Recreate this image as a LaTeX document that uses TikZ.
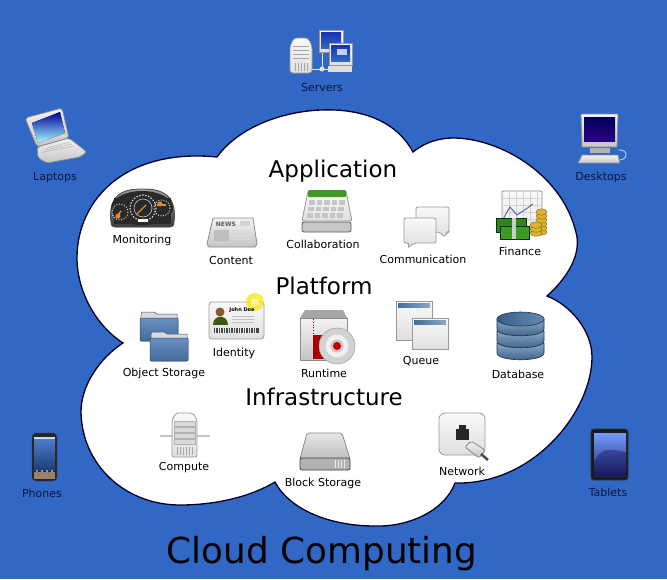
\documentclass[tikz,border=0pt]{standalone}
\usepackage{fontspec}
\setmainfont{DejaVu Sans}
\usepackage{tikz}
\usetikzlibrary{arrows.meta,positioning,calc}
\definecolor{cbg}{HTML}{3167C5}
\definecolor{cln}{HTML}{0C1640}
\definecolor{cgy}{HTML}{8A8A8A}
\definecolor{cdk}{HTML}{3A3A3A}
\definecolor{cor}{HTML}{E08A2A}
\definecolor{cfo}{HTML}{4F7DB5}
\definecolor{cdb}{HTML}{3F6E9E}
\definecolor{cmo}{HTML}{3C9A22}
\definecolor{cau}{HTML}{D9B528}

\begin{document}
\begin{tikzpicture}[x=1pt,y=-1pt,
    lbl/.style={font=\fontsize{11}{12}\selectfont,text=black,inner sep=0pt},
    lblout/.style={lbl,text=cln},
    head/.style={font=\fontsize{23}{26}\selectfont,text=black,inner sep=0pt},
    metal/.style={draw=cgy,line width=0.8pt,top color=gray!10,bottom color=gray!45},
    pale/.style={draw=gray!80,line width=0.8pt,top color=gray!5,bottom color=gray!25},
    rule/.style={line width=0.7pt,gray!70},
  ]
  \useasboundingbox (0,0) rectangle (667,579);
  \fill[cbg] (0,0) rectangle (667,579);
  % cloud
  \draw[fill=white,draw=black!85!blue,line width=1.3pt] (217,157)
    .. controls (240,125) and (290,108) .. (335,110)
    .. controls (375,112) and (400,128) .. (413,152)
    .. controls (425,142) and (440,138) .. (453,138)
    .. controls (500,138) and (565,175) .. (577,237)
    .. controls (580,258) and (565,280) .. (547,296)
    .. controls (570,305) and (592,330) .. (592,357)
    .. controls (592,410) and (535,485) .. (455,483)
    .. controls (445,510) and (410,527) .. (375,526)
    .. controls (330,526) and (290,510) .. (275,482)
    .. controls (250,497) and (215,505) .. (180,505)
    .. controls (125,505) and (82,465) .. (81,412)
    .. controls (81,385) and (100,358) .. (123,343)
    .. controls (95,325) and (77,290) .. (77,258)
    .. controls (77,200) and (125,148) .. (217,157) -- cycle;
  % titles
  \node[head] (application) at (333,171.5) {Application};
  \node[head] (platform) at (324,286) {Platform};
  \node[head] (infrastructure) at (324,397) {Infrastructure};
  \node[font=\fontsize{35.8}{40}\selectfont,text=black,inner sep=0pt] (title) at (322,554) {Cloud Computing};
  % labels
  \node[lblout] (servers) at (322,87) {Servers};
  \node[lblout] (laptops) at (55,178) {Laptops};
  \node[lblout] (desktops) at (601,177) {Desktops};
  \node[lblout] (phones) at (42,493) {Phones};
  \node[lblout] (tablets) at (608,492) {Tablets};
  \node[lbl] (monitoring) at (142,240) {Monitoring};
  \node[lbl] (content) at (231,260) {Content};
  \node[lbl] (collaboration) at (323,244) {Collaboration};
  \node[lbl] (communication) at (423,259) {Communication};
  \node[lbl] (finance) at (520,251) {Finance};
  \node[lbl] (objstore) at (164,373) {Object Storage};
  \node[lbl] (identity) at (234,353) {Identity};
  \node[lbl] (runtime) at (324,373) {Runtime};
  \node[lbl] (queue) at (421,361) {Queue};
  \node[lbl] (database) at (518,374) {Database};
  \node[lbl] (compute) at (184,468) {Compute};
  \node[lbl] (blockstore) at (323,483) {Block Storage};
  \node[lbl] (network) at (462,471) {Network};
  % servers
  \draw[line width=1pt,white!85!cbg] (311,69) -- (329,69) (322,52) -- (322,69);
  \fill[white!85!cbg] (322,69) circle (2.5);
  \draw[pale,rounded corners=3pt] (290,46) -- (294,38) -- (308,38) -- (312,46) -- (312,73) -- (290,73) -- cycle;
  \foreach \y in {46,50,54,58} \draw[rule] (293,\y) -- (309,\y);
  \foreach \x in {295,298,...,308} \draw[rule,line width=0.5pt] (\x,63) -- (\x,71);
  \draw[pale] (319,30) rectangle (343,52);
  \fill[top color=blue!40!cbg!80!black,bottom color=cbg] (321,32) rectangle (341,48);
  \draw[pale] (329,43) rectangle (352,65);
  \fill[top color=blue!40!cbg!80!black,bottom color=cbg] (331,45) rectangle (350,61);
  \fill[white!70!cbg] (337,49) rectangle (347,55);
  \fill[gray!25] (328,66) rectangle (352,72);
  % laptop
  \draw[metal,rounded corners=3pt] (25,118) -- (62,108) -- (69,138) -- (37,147) -- cycle;
  \fill[top color=blue!60!black,bottom color=cyan!35!white] (32,123) -- (60,112) -- (65,133) -- (38,143) -- cycle;
  \draw[metal,rounded corners=3pt] (37,147) -- (69,138) -- (87,152) -- (80,157) -- (47,163) -- (38,158) -- cycle;
  \foreach \k in {0,1,2} \draw[rule,gray!50] (43+\k*2,152-\k*2) -- (74-\k*2,146-\k*2);
  % desktop
  \draw[metal] (581,114) -- (618,114) -- (617,147) -- (582,147) -- cycle;
  \fill[top color=blue!35!black,bottom color=violet!50!blue!70!black] (584,117) rectangle (615,141);
  \fill[gray!60] (590,148) rectangle (610,153);
  \draw[metal] (582,155) -- (618,155) -- (620,163) -- (578,163) -- cycle;
  \draw[line width=0.8pt,white!75!cbg] (618,150) .. controls (627,149) and (630,158) .. (620,160);
  % phone
  \draw[fill=black!85,draw=gray!50!black,rounded corners=4pt] (32,433) rectangle (57,481);
  \fill[top color=cbg!85!white,bottom color=cbg!60!black] (34,438) rectangle (55,470);
  \fill[white!75!cbg] (34,437) rectangle (55,439);
  \fill[gray!60!brown] (34,472) rectangle (55,479);
  \foreach \x in {37,42,47,52} \fill[white] (\x,471) circle (0.8);
  % tablet
  \draw[fill=black!90,draw=gray!40!black,line width=0.8pt,rounded corners=3pt] (591,429) rectangle (628,480);
  \fill[top color=cyan!30!blue!55!white,bottom color=blue!30!black!85] (594,433) rectangle (626,476);
  \fill[blue!30!black,opacity=0.35] (594,476) -- (594,462) .. controls (602,445) and (612,450) .. (626,452) -- (626,476) -- cycle;
  % monitoring
  \fill[top color=gray!80,bottom color=cdk,draw=gray!60!black,line width=0.8pt] (111,222)
    .. controls (107,190) and (130,189) .. (142,189) .. controls (155,189) and (178,190) .. (174,222)
    .. controls (174,226) and (172,227) .. (170,227) -- (115,227) .. controls (113,227) and (111,226) .. (111,222) -- cycle;
  \fill[cdk!70!black] (114,198) rectangle (171,224);
  \fill[cdk!70!black] (142,208) ellipse (31 and 17);
  \draw[white!80!cdk,line width=1.1pt,dash pattern=on 1.5pt off 1.5pt] (143,208) circle (13);
  \draw[white!70!cdk,line width=0.6pt] (143,208) circle (9);
  \draw[cor,line width=1.2pt] (136,215) -- (146,205);
  \draw[white!80!cdk,line width=1pt,dash pattern=on 1pt off 1.6pt] (120,212) circle (8);
  \draw[cor,line width=1.5pt] (116,218) -- (121,211);
  \fill[cor] (118,216) circle (2.5);
  \draw[white!80!cdk,line width=1pt,dash pattern=on 1pt off 1.6pt] (162,208) circle (8);
  \draw[cor,line width=1.5pt] (157,205) -- (166,205);
  \fill[cor] (160,204) circle (2.5);
  \fill[white] (138,219) rectangle (148,222);
  % content
  \draw[metal] (213,218) -- (253,218) -- (257,244) -- (255,247) -- (209,247) -- (207,244) -- cycle;
  \node[font=\fontsize{6}{6}\selectfont\rmfamily\bfseries,text=gray!70!black,inner sep=0pt] (newsmark) at (226,224) {NEWS};
  \fill[gray!50] (214,230) rectangle (229,241);
  \foreach \y in {230,233,236,239} \draw[rule,gray!30] (232,\y) -- (250,\y);
  \fill[gray!35] (240,221) rectangle (250,226);
  % collaboration
  \draw[draw=gray!70!black,fill=gray!45,rounded corners=2pt,line width=0.8pt] (302,222) -- (351,222) -- (351,232) -- (302,232) -- cycle;
  \draw[pale,rounded corners=2pt] (308,191) -- (346,191) -- (352,221) -- (302,221) -- cycle;
  \fill[cmo,rounded corners=1pt] (308,190) rectangle (346,197);
  \foreach \i in {0,...,4} \foreach \j in {0,1,2}
    \fill[gray!45] (309+\i*7.5-\j*1,200+\j*6.5) rectangle ++(5.5,4.5);
  % communication
  \draw[pale,rounded corners=2pt] (416,207) -- (449,207) -- (449,232) -- (447,232) -- (445,237) -- (439,232) -- (416,232) -- cycle;
  \draw[pale,rounded corners=2pt] (404,218) -- (436,218) -- (436,243) -- (414,243) -- (408,248) -- (409,243) -- (404,243) -- cycle;
  % finance
  \draw[metal,top color=gray!5,bottom color=gray!15,rounded corners=1pt] (502,191) rectangle (542,232);
  \foreach \x in {509,516,...,537} \draw[gray!35,line width=0.4pt] (\x,192) -- (\x,230);
  \foreach \y in {198,205,...,226} \draw[gray!35,line width=0.4pt] (503,\y) -- (541,\y);
  \draw[blue!30!gray,line width=0.9pt] (503,219) -- (510,207) -- (517,215) -- (526,209) -- (533,204);
  \draw[fill=cmo!85!black,draw=green!20!black,line width=0.4pt] (496,218) rectangle (526,232);
  \draw[fill=cmo,draw=green!20!black,line width=0.4pt] (500,226) rectangle (529,239);
  \fill[gray!40] (512,218) rectangle (516,239);
  \foreach \y in {232,228,...,212} \draw[fill=cau,draw=brown!70!black,line width=0.4pt] (541.5,\y) ellipse (5.5 and 3.2);
  \foreach \y in {233,229,225} \draw[fill=cau,draw=brown!70!black,line width=0.4pt] (536,\y) ellipse (6 and 3.2);
  % object storage
  \foreach \xx/\yy in {140/312,150/332} {
    \fill[gray!30,draw=cfo!70!black,line width=0.5pt] (\xx+1,\yy+2) -- (\xx+2,\yy) -- (\xx+14,\yy) -- (\xx+17,\yy+2) -- (\xx+37,\yy+2) -- (\xx+37,\yy+8) -- (\xx+1,\yy+8) -- cycle;
    \fill[top color=cfo!85!white,bottom color=cfo!85!black,draw=cfo!60!black,line width=0.5pt,rounded corners=1pt] (\xx,\yy+6) rectangle (\xx+38,\yy+29);
  }
  % identity
  \draw[pale,rounded corners=3pt] (209,302) rectangle (264,339);
  \fill[yellow!85!orange,opacity=0.7] (255,302) circle (9);
  \fill[yellow!40,opacity=0.9] (255,302) circle (4);
  \fill[brown!70!black] (220,312) circle (4.5);
  \fill[green!30!black!70!brown] (213,325) .. controls (213,314) and (228,314) .. (228,325) -- cycle;
  \node[font=\fontsize{5}{5}\selectfont\bfseries,inner sep=0pt] (cardname) at (242,310) {John Doe};
  \foreach \y in {316,319,322} \draw[gray!50,line width=0.5pt] (232,\y) -- (254,\y);
  \fill[gray!55!black] (214,328) rectangle (259,333);
  \foreach \x in {215,217.5,...,257} \fill[gray!15] (\x,328) rectangle ++(1,5);
  % runtime
  \fill[gray!70] (300,318) -- (305,310) -- (343,310) -- (347,318) -- cycle;
  \draw[metal] (300,318) rectangle (347,360);
  \fill[red!65!black] (313,335) rectangle (327,359);
  \draw[red!65!black,dotted,line width=0.8pt] (313,319) -- (313,335);
  \draw[fill=gray!35,draw=gray!70,line width=0.6pt] (337,346) circle (18);
  \fill[gray!12] (337,346) circle (11.5);
  \fill[gray!45] (337,346) circle (6.5);
  \fill[red!75!black] (337,346) circle (4);
  % queue
  \draw[pale] (396,301) rectangle (432,340);
  \fill[left color=cdb,right color=cdb!60!white] (398,303) rectangle (430,307);
  \draw[pale] (412,318) rectangle (448,349);
  \fill[left color=cdb,right color=cdb!60!white] (414,320) rectangle (446,324);
  % database
  \foreach \y in {343,331,319} {
    \draw[draw=cdb!40!black,line width=0.6pt,top color=cdb!60!white,bottom color=cdb!85!black] (497,\y) -- (497,\y+10) .. controls (497,\y+19) and (544,\y+19) .. (544,\y+10) -- (544,\y) -- cycle;
  }
  \draw[draw=cdb!50!black,line width=0.6pt,left color=cdb!85!black,right color=cdb!80!white] (520.5,319) ellipse (23.5 and 7);
  % compute
  \draw[gray!45,line width=1.6pt] (160,436) -- (210,436);
  \draw[pale,rounded corners=2pt] (172,420) -- (176,413) -- (193,413) -- (197,420) -- (197,457) -- (172,457) -- cycle;
  \foreach \y in {421,427,433,439} \draw[gray!60,line width=0.5pt,fill=gray!30] (174,\y) rectangle (195,\y+5);
  \foreach \x in {177,180,...,192} \draw[rule,line width=0.5pt] (\x,447) -- (\x,455);
  % block storage
  \draw[metal,top color=gray!20,bottom color=gray!50,rounded corners=2pt] (307,433) -- (342,433) -- (350,459) -- (300,459) -- cycle;
  \draw[draw=gray!50!black,fill=gray!60,rounded corners=2pt,line width=0.8pt] (300,458) rectangle (350,470);
  \foreach \x in {335,338,341,344} \draw[gray!15,line width=0.7pt] (\x,460) -- (\x,468);
  % network
  \draw[pale,rounded corners=6pt] (439,413) rectangle (485,455);
  \fill[black!85] (456,429) rectangle (469,440);
  \fill[black!85] (459,425) rectangle (466,429);
  \draw[metal,rounded corners=2pt] (465,447) -- (471,441) -- (485,450) -- (479,458) -- cycle;
  \draw[gray!60!black,line width=2.5pt] (481,454) -- (488,460);
\end{tikzpicture}
\end{document}
